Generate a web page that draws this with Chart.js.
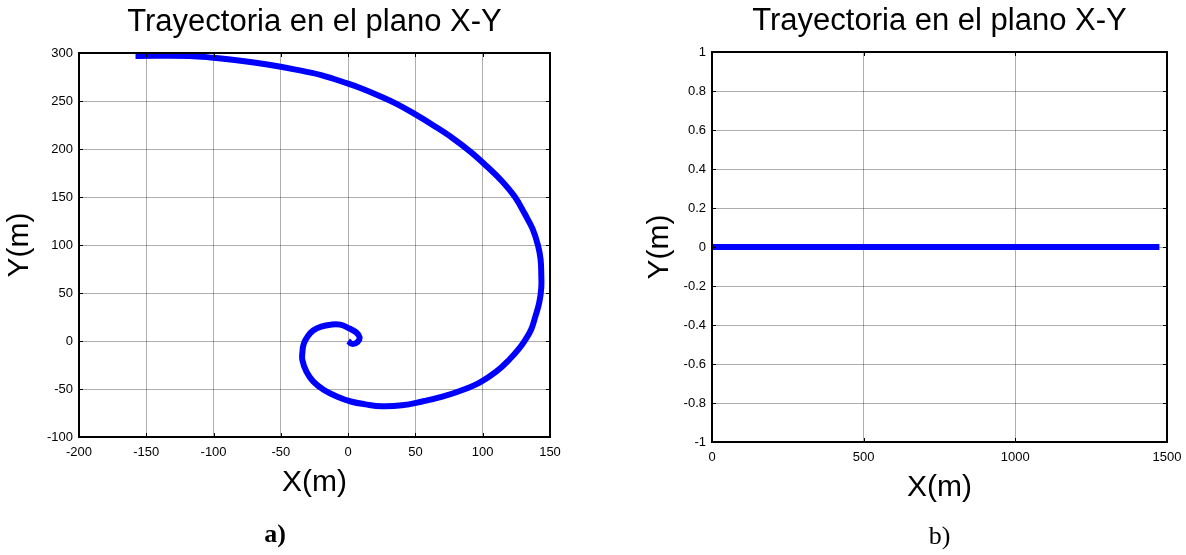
<!DOCTYPE html>
<html>
<head>
<meta charset="utf-8">
<script src="https://cdn.jsdelivr.net/npm/chart.js@4.4.0/dist/chart.umd.min.js"></script>
<style>
  body { margin: 0; background: #fff; }
  .panel { position: absolute; top: 0; width: 593px; height: 555px; }
</style>
</head>
<body>
<div class="panel" style="left:0"><canvas id="chartA" width="593" height="555"></canvas></div>
<div class="panel" style="left:593px"><canvas id="chartB" width="593" height="555"></canvas></div>
<script>
// a) trayectoria en espiral (m)
var espiralX = [0, 3, 7, 8.5, 6, 1, -6, -13, -20, -26, -30, -33, -34, -34, -31, -26, -18, -8, 2, 13, 25, 40, 55, 70, 85, 98, 110, 120, 127, 132, 136, 139, 142, 143.5, 143.5, 143, 141, 137, 131, 124, 114, 103, 91, 78, 64, 50, 36, 22, 10, 0, -20, -40, -60, -80, -100, -118, -158];
var espiralY = [0, -3, -1, 4, 9, 13, 17, 17, 15, 11, 5, -3, -12, -20, -32, -42, -51, -58, -63, -66, -68, -67, -63, -58, -51, -43, -32, -19, -8, 2, 12, 25, 40, 55, 70, 85, 100, 117, 133, 150, 167, 182, 197, 211, 224, 236, 247, 256, 263, 268, 277, 283, 288, 292, 295, 297, 297];

// b) trayectoria recta (m)
var rectaX = [0, 1475];
var rectaY = [0, 0];

// tick labels
var ticksAX = [-200, -150, -100, -50, 0, 50, 100, 150];
var ticksAY = [-100, -50, 0, 50, 100, 150, 200, 250, 300];
var ticksBX = [0, 500, 1000, 1500];
var ticksBY = [-1, -0.8, -0.6, -0.4, -0.2, 0, 0.2, 0.4, 0.6, 0.8, 1];

var sans = "'Liberation Sans', Arial, sans-serif";
var serif = "'Liberation Serif', 'Times New Roman', serif";

function puntos(xs, ys) {
  return xs.map(function (x, i) { return { x: x, y: ys[i] }; });
}

// plain number labels, no thousands separator or trailing zero
function etiqueta(v) { return String(v); }

// black box round the axes with short inward tick marks on all four sides
var marco = {
  id: 'marco',
  afterDatasetsDraw: function (chart) {
    var ctx = chart.ctx, a = chart.chartArea;
    var sx = chart.scales.x, sy = chart.scales.y;
    ctx.save();
    ctx.strokeStyle = '#000';
    ctx.lineWidth = 1;
    ctx.beginPath();
    sx.ticks.forEach(function (t) {
      var p = Math.round(sx.getPixelForValue(t.value)) + 0.5;
      ctx.moveTo(p, a.bottom); ctx.lineTo(p, a.bottom - 4);
      ctx.moveTo(p, a.top); ctx.lineTo(p, a.top + 4);
    });
    sy.ticks.forEach(function (t) {
      var p = Math.round(sy.getPixelForValue(t.value)) + 0.5;
      ctx.moveTo(a.left, p); ctx.lineTo(a.left + 4, p);
      ctx.moveTo(a.right, p); ctx.lineTo(a.right - 4, p);
    });
    ctx.stroke();
    ctx.lineWidth = 2;
    ctx.strokeRect(a.left, a.top, a.right - a.left, a.bottom - a.top);
    ctx.restore();
  }
};

function grafica(id, cfg) {
  return new Chart(document.getElementById(id), {
    type: 'scatter',
    data: {
      datasets: [{
        data: puntos(cfg.xs, cfg.ys),
        showLine: true,
        borderColor: '#0000ff',
        backgroundColor: '#0000ff',
        borderWidth: 6,
        borderJoinStyle: 'round',
        pointRadius: 0,
        tension: cfg.tension
      }]
    },
    options: {
      responsive: false,
      animation: false,
      events: [],
      layout: { padding: { left: 0, right: cfg.padRight, top: 0, bottom: 0 } },
      plugins: {
        legend: { display: false },
        tooltip: { enabled: false },
        title: {
          display: true,
          text: 'Trayectoria en el plano X-Y',
          color: '#000',
          fullSize: false,
          font: { family: sans, size: 31, weight: 'normal', lineHeight: '36px' },
          padding: { top: cfg.titleTop, bottom: cfg.titleBottom }
        },
        subtitle: {
          display: true,
          position: 'bottom',
          text: cfg.letra,
          color: '#000',
          fullSize: cfg.letraFull,
          font: { family: serif, size: 26, weight: cfg.letraPeso, lineHeight: '30px' },
          padding: { top: cfg.letraTop, bottom: cfg.letraBottom }
        }
      },
      scales: {
        x: {
          type: 'linear',
          position: 'bottom',
          min: cfg.xTicks[0],
          max: cfg.xTicks[cfg.xTicks.length - 1],
          afterBuildTicks: function (s) { s.ticks = cfg.xTicks.map(function (v) { return { value: v }; }); },
          afterFit: function (s) {
            s.height = 72;
            // end labels may hang past the box; the layout padding leaves room for them
            s.paddingLeft = 0;
            s.paddingRight = 0;
          },
          grid: { color: 'rgba(0,0,0,0.32)', lineWidth: 1, drawTicks: false },
          border: { display: false },
          ticks: { color: '#000', font: { family: sans, size: 13 }, padding: 8, maxRotation: 0, autoSkip: false, callback: etiqueta },
          title: {
            display: true, text: 'X(m)', color: '#000',
            font: { family: sans, size: 30, lineHeight: '34px' },
            padding: { top: 0, bottom: 9 }
          }
        },
        y: {
          type: 'linear',
          position: 'left',
          min: cfg.yTicks[0],
          max: cfg.yTicks[cfg.yTicks.length - 1],
          afterBuildTicks: function (s) { s.ticks = cfg.yTicks.map(function (v) { return { value: v }; }); },
          afterFit: function (s) { s.width = cfg.yWidth; },
          grid: { color: 'rgba(0,0,0,0.32)', lineWidth: 1, drawTicks: false },
          border: { display: false },
          ticks: { color: '#000', font: { family: sans, size: 13 }, padding: 6, autoSkip: false, callback: etiqueta },
          title: {
            display: true, text: 'Y(m)', color: '#000',
            font: { family: sans, size: 30, lineHeight: '34px' },
            padding: { top: cfg.yTitlePad, bottom: 0 }
          }
        }
      }
    },
    plugins: [marco]
  });
}

grafica('chartA', {
  xs: espiralX, ys: espiralY, tension: 0.4,
  xTicks: ticksAX, yTicks: ticksAY,
  yWidth: 79, yTitlePad: 3, padRight: 43,
  titleTop: 4, titleBottom: 13,
  letra: 'a)', letraPeso: 'bold', letraFull: true, letraTop: 11, letraBottom: 5
});

grafica('chartB', {
  xs: rectaX, ys: rectaY, tension: 0,
  xTicks: ticksBX, yTicks: ticksBY,
  yWidth: 119, yTitlePad: 50, padRight: 19,
  titleTop: 3, titleBottom: 13,
  letra: 'b)', letraPeso: 'normal', letraFull: false, letraTop: 8, letraBottom: 3
});
</script>
</body>
</html>
